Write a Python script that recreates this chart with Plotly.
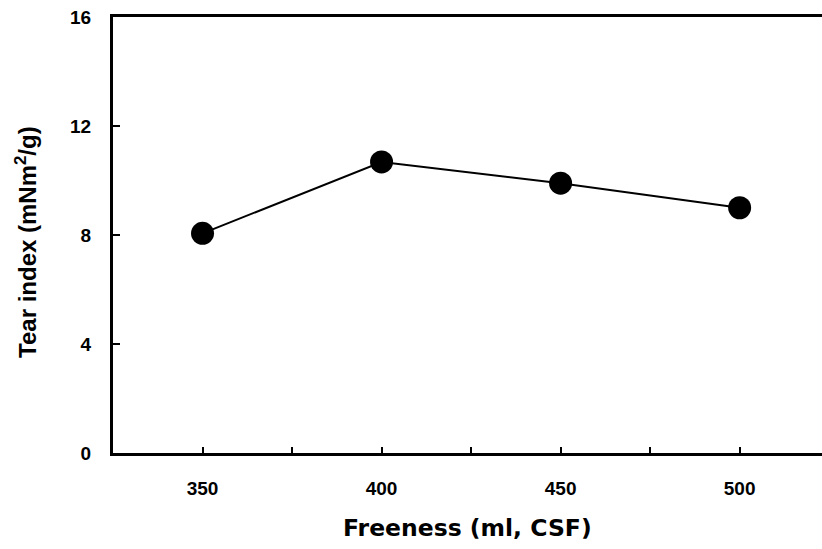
import plotly.graph_objects as go

# Tear index versus pulp freeness
freeness = [350, 400, 450, 500]
tear_index = [8.06, 10.68, 9.9, 9.0]

x_ticks = [350, 400, 450, 500]
y_ticks = [0, 4, 8, 12, 16]

FONT = "Liberation Sans, Arial, sans-serif"
WIDE_FONT = "DejaVu Sans, Liberation Sans, sans-serif"

fig = go.Figure()
fig.add_trace(go.Scatter(
    x=freeness,
    y=tear_index,
    mode="lines+markers",
    line=dict(color="black", width=2),
    marker=dict(color="black", size=23),
    cliponaxis=False,
    showlegend=False,
))

fig.update_layout(
    width=822,
    height=549,
    margin=dict(l=113, r=0, t=17, b=96),
    paper_bgcolor="white",
    plot_bgcolor="white",
    font=dict(family=FONT, color="black"),
    xaxis=dict(
        range=[325, 523],
        tickvals=x_ticks,
        ticktext=[str(v) for v in x_ticks],
        ticks="inside",
        ticklen=6,
        tickwidth=2,
        tickcolor="black",
        minor=dict(ticks="inside", dtick=25, tick0=350, ticklen=6,
                   tickwidth=2, tickcolor="black"),
        tickfont=dict(family=FONT, size=19, weight="bold", color="black"),
        ticklabelstandoff=16,
        showline=True,
        linecolor="black",
        linewidth=3,
        mirror=True,
        showgrid=False,
        zeroline=False,
    ),
    yaxis=dict(
        range=[0, 16],
        tickvals=y_ticks,
        ticktext=[str(v) for v in y_ticks],
        ticks="inside",
        ticklen=7,
        tickwidth=2,
        tickcolor="black",
        tickfont=dict(family=FONT, size=19, weight="bold", color="black"),
        ticklabelstandoff=15,
        showline=True,
        linecolor="black",
        linewidth=3,
        showgrid=False,
        zeroline=False,
    ),
    annotations=[
        dict(
            text="Freeness (ml, CSF)",
            xref="paper", yref="paper",
            x=0.5, y=-0.172,
            xanchor="center", yanchor="middle",
            showarrow=False,
            font=dict(family=WIDE_FONT, size=23.5, weight="bold", color="black"),
        ),
        dict(
            text="Tear index (mNm<sup>2</sup>/g)",
            xref="paper", yref="paper",
            x=-0.122, y=0.483,
            xanchor="center", yanchor="middle",
            textangle=-90,
            showarrow=False,
            font=dict(family=FONT, size=24, weight="bold", color="black"),
        ),
    ],
)

fig.write_html("out.html")
